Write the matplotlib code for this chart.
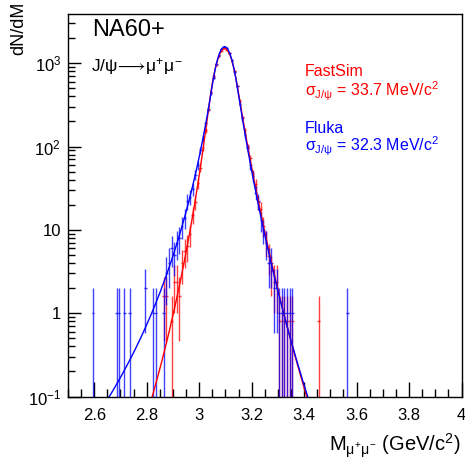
import numpy as np
import matplotlib
matplotlib.use('Agg')
import matplotlib.pyplot as plt
from matplotlib.ticker import FixedLocator, FixedFormatter, LogLocator, MultipleLocator, NullFormatter

plt.rcParams['font.family'] = ['Liberation Sans', 'DejaVu Sans']
plt.rcParams['mathtext.fontset'] = 'custom'
plt.rcParams['mathtext.rm'] = 'Liberation Sans'
plt.rcParams['mathtext.it'] = 'Liberation Sans'
plt.rcParams['mathtext.bf'] = 'Liberation Sans:bold'

# histogram binning (GeV/c^2)
x_lo, x_hi, bin_w = 2.5, 4.0, 0.01

# Fluka, entries per bin (one row = 0.1 GeV)
fluka_counts = [
    0, 0, 0, 0, 0, 0, 0, 0, 0, 1,            # 2.5
    0, 0, 0, 0, 0, 0, 0, 0, 1, 1,            # 2.6
    0, 1, 0, 1, 0, 0, 0, 0, 0, 2,            # 2.7
    0, 0, 1, 1, 0, 0, 1, 3, 4, 6,            # 2.8
    5, 7, 8, 11, 14, 22, 25, 31, 46, 60,     # 2.9
    90, 124, 190, 278, 440, 672, 975, 1240, 1480, 1570,   # 3.0
    1540, 1345, 1090, 785, 530, 328, 218, 138, 95, 60,    # 3.1
    44, 28, 22, 13, 10, 7, 4, 4, 2, 2,       # 3.2
    1, 1, 1, 1, 1, 1, 0, 0, 0, 0,            # 3.3
    0, 0, 0, 0, 0, 0, 0, 0, 0, 0,            # 3.4
    0, 0, 0, 0, 0, 0, 1, 0, 0, 0,            # 3.5
    0, 0, 0, 0, 0, 0, 0, 0, 0, 0,            # 3.6
    0, 0, 0, 0, 0, 0, 0, 0, 0, 0,            # 3.7
    0, 0, 0, 0, 0, 0, 0, 0, 0, 0,            # 3.8
    0, 0, 0, 0, 0, 0, 0, 0, 0, 0,            # 3.9
]

# FastSim, entries per bin, drawn scaled by fastsim_norm
fastsim_counts = [
    0, 0, 0, 0, 0, 0, 0, 0, 0, 0,            # 2.5
    0, 0, 0, 0, 0, 0, 0, 0, 0, 0,            # 2.6
    0, 0, 0, 0, 0, 0, 0, 0, 0, 0,            # 2.7
    0, 0, 0, 0, 0, 0, 2, 2, 0, 1,            # 2.8
    3, 3, 2, 5, 7, 8, 11, 19, 27, 46,        # 2.9
    70, 121, 195, 350, 565, 870, 1190, 1530, 1750, 1880,  # 3.0
    1810, 1640, 1320, 1005, 672, 445, 280, 195, 124, 90,  # 3.1
    58, 44, 27, 22, 14, 9, 6, 4, 3, 3,       # 3.2
    1, 1, 1, 1, 1, 1, 0, 0, 0, 0,            # 3.3
    0, 0, 0, 0, 0, 1, 0, 0, 0, 0,            # 3.4
    0, 0, 0, 0, 0, 0, 0, 0, 0, 0,            # 3.5
    0, 0, 0, 0, 0, 0, 0, 0, 0, 0,            # 3.6
    0, 0, 0, 0, 0, 0, 0, 0, 0, 0,            # 3.7
    0, 0, 0, 0, 0, 0, 0, 0, 0, 0,            # 3.8
    0, 0, 0, 0, 0, 0, 0, 0, 0, 0,            # 3.9
]
fastsim_norm = 0.8

# double sided crystal ball fit results: A, mu, sigma, alphaL, nL, alphaR, nR
fluka_fit = [1580, 3.097, 0.0323, 1.5, 6.3, 1.5, 12.0]
fastsim_fit = [1500, 3.097, 0.0337, 1.9, 9.8, 1.5, 14.0]


def dscb(x, A, mu, sig, aL, nL, aR, nR):
    t = (x - mu) / sig
    y = A * np.exp(-0.5 * t**2)
    dL = nL / aL - aL
    dR = nR / aR - aR
    l = t < -aL
    r = t > aR
    y[l] = A * np.exp(-0.5 * aL**2) * ((dL - t[l]) / (dL + aL)) ** (-nL)
    y[r] = A * np.exp(-0.5 * aR**2) * ((dR + t[r]) / (dR + aR)) ** (-nR)
    return y


fig = plt.figure(figsize=(4.65, 4.58), dpi=100)
ax = fig.add_axes([68/465, 1-396.5/458, (461.5-68)/465, (396.5-14)/458])

centers = x_lo + bin_w * (np.arange(len(fluka_counts)) + 0.5)


def draw_hist(counts, norm, col):
    c = np.array(counts, dtype=float)
    m = c > 0
    v = c[m] * norm
    e = np.sqrt(c[m]) * norm
    lo = np.clip(e, 0, v - 1e-4)
    ax.errorbar(centers[m], v, yerr=[lo, e], xerr=bin_w/2, fmt='none',
                ecolor=col, elinewidth=1.0, capsize=0, alpha=0.75)


draw_hist(fastsim_counts, fastsim_norm, 'red')
draw_hist(fluka_counts, 1.0, 'blue')

xs = np.linspace(x_lo, x_hi, 1500)
ax.plot(xs, dscb(xs, *fastsim_fit), color='red', lw=1.0)
ax.plot(xs, dscb(xs, *fluka_fit), color='blue', lw=1.0)

ax.set_yscale('log')
ax.set_xlim(x_lo, x_hi)
ax.set_ylim(0.1, 3900)

ax.xaxis.set_minor_locator(MultipleLocator(0.05))
ax.set_xticks([2.6, 2.8, 3.0, 3.2, 3.4, 3.6, 3.8, 4.0])
ax.set_xticklabels(['2.6', '2.8', '3', '3.2', '3.4', '3.6', '3.8', '4'])
ax.yaxis.set_major_locator(FixedLocator([0.1, 1, 10, 100, 1000]))
ax.yaxis.set_major_formatter(FixedFormatter(['10$^{-1}$', '1', '10', '10$^{2}$', '10$^{3}$']))
ax.yaxis.set_minor_locator(LogLocator(base=10, subs=np.arange(2, 10)))
ax.yaxis.set_minor_formatter(NullFormatter())

ax.tick_params(which='both', direction='in', top=False, right=False, labelsize=12, width=1)
ax.tick_params(axis='x', which='major', length=11, pad=8)
ax.tick_params(axis='x', which='minor', length=6)
ax.tick_params(axis='y', which='major', length=9, pad=5)
ax.tick_params(axis='y', which='minor', length=5)
for s in ax.spines.values():
    s.set_linewidth(1)

# axis titles (ROOT style, at the ends of the axes)
fig.text(460/465, 1-451/458, r'M$_{\mu^{+}\mu^{-}}$ (GeV/c$^{2}$)', ha='right', va='baseline', fontsize=14.5)
fig.text(27/465, 1-2/458, 'dN/dM', rotation=90, ha='right', va='top', fontsize=13)

fig.text(92/465, 1-36.5/458, 'NA60+', fontsize=17, va='baseline')
fig.text(91/465, 1-71/458, r'J/$\psi\!\longrightarrow\!\mu^{+}\mu^{-}$', fontsize=12.5, va='baseline')

fig.text(305/465, 1-76/458, 'FastSim', color='red', fontsize=11.5, va='baseline')
fig.text(305/465, 1-96.5/458, r'$\sigma_{J/\psi}$ = 33.7 MeV/c$^{2}$', color='red', fontsize=11.5, va='baseline')
fig.text(305/465, 1-133/458, 'Fluka', color='blue', fontsize=11.5, va='baseline')
fig.text(305/465, 1-151.5/458, r'$\sigma_{J/\psi}$ = 32.3 MeV/c$^{2}$', color='blue', fontsize=11.5, va='baseline')

fig.savefig('out.png', dpi=100)
